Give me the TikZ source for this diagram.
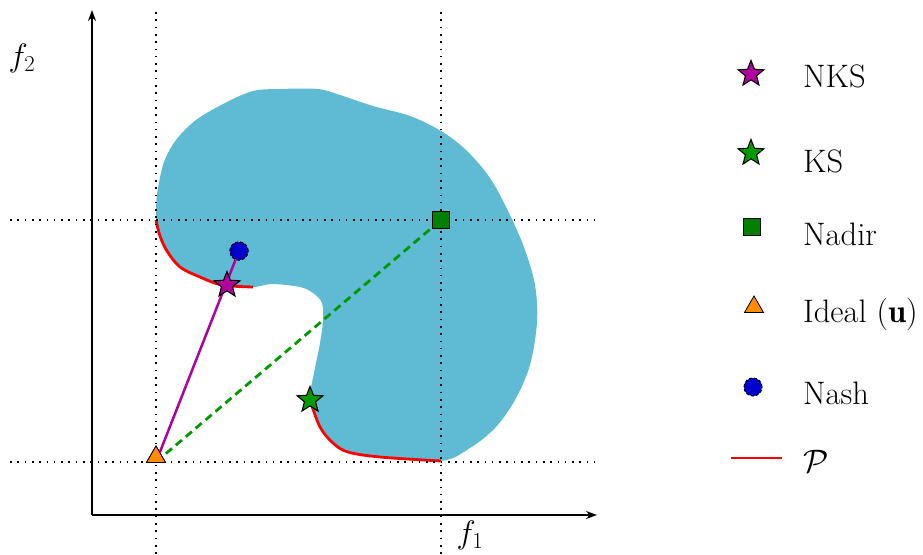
\documentclass[tikz,border=0pt]{standalone}
\usepackage{fix-cm}
\usepackage{fontspec}
\usetikzlibrary{shapes.geometric,arrows.meta}
\definecolor{blobc}{HTML}{5FBBD3}
\definecolor{nkscol}{HTML}{B0009E}
\definecolor{kscol}{HTML}{009A00}
\definecolor{nadircol}{HTML}{007F00}
\definecolor{idealcol}{HTML}{FF8C00}
\definecolor{nashcol}{HTML}{0000CC}
\definecolor{parcol}{HTML}{FF0000}
\tikzset{
  x=1pt,y=-1pt,
  dotline/.style={line width=1.6pt, dash pattern=on 1.6pt off 5.7pt},
  axisline/.style={line width=1.3pt,-{Stealth[length=11pt,width=8pt]}},
  starmark/.style={star, star points=5, star point ratio=2.3, minimum size=27pt, inner sep=0pt, draw=black, line width=1.1pt},
  nksmark/.style={starmark, fill=nkscol},
  ksmark/.style={starmark, fill=kscol},
  nadirmark/.style={rectangle, minimum size=17pt, inner sep=0pt, draw=black, line width=1.1pt, fill=nadircol},
  idealmark/.style={regular polygon, regular polygon sides=3, minimum size=22pt, inner sep=0pt, draw=black, line width=0.8pt, fill=idealcol},
  nashmark/.style={circle, minimum size=18pt, inner sep=0pt, draw=black, line width=1.1pt, densely dashed, fill=nashcol},
  paretoline/.style={parcol, line width=2.8pt},
  legtext/.style={anchor=west, inner sep=0pt},
}
\begin{document}
\begin{tikzpicture}[font=\fontsize{32.5}{38}\selectfont]
\useasboundingbox (0,0) rectangle (923,554);
% blob
\fill[blobc] plot[smooth, tension=0.55] coordinates {
 (156,220) (160,236) (167,251) (180,267) (200,277) (222,285) (253,287)
 (272,284) (300,287) (313,293) (322,303) (323,320) (320,343) (314,373) (310,400)
 (320,427) (333,443) (348,452) (380,457) (441,461)
 (470,448) (495,428) (515,400) (530,365) (537,322) (535,285) (525,250)
 (510,215) (490,178) (466,150) (441,131) (410,116) (373,106) (340,95)
 (318,89) (280,89) (253,91) (225,103) (196,120) (176,140) (164,162) (158,188) (156,205)} -- cycle;
% pareto curves
\draw[paretoline] plot[smooth, tension=0.55] coordinates {
 (156,220) (160,236) (167,251) (180,267) (200,277) (222,285) (253,287)};
\draw[paretoline] plot[smooth, tension=0.55] coordinates {
 (310,400) (320,427) (333,443) (348,452) (380,457) (441,461)};
% dotted guides
\coordinate (vAtop) at (156,12); \coordinate (vAbot) at (156,554);
\coordinate (vBtop) at (441,12); \coordinate (vBbot) at (441,554);
\coordinate (hAl) at (10,220); \coordinate (hAr) at (595,220);
\coordinate (hBl) at (10,462); \coordinate (hBr) at (595,462);
\draw[dotline] (vAtop) -- (vAbot);
\draw[dotline] (vBtop) -- (vBbot);
\draw[dotline] (hAl) -- (hAr);
\draw[dotline] (hBl) -- (hBr);
% axes
\coordinate (origin) at (92,515);
\coordinate (ytip) at (92,10);
\coordinate (xtip) at (597,515);
\draw[axisline] (origin) -- (ytip);
\draw[axisline] (origin) -- (xtip);
\node (f2) at (22,58) {$f_2$};
\node (f1) at (470,535) {$f_1$};
% points
\node[nashmark] (nash) at (239,251) {};
\node[nadirmark] (nadir) at (441,220) {};
\node[idealmark] (ideal) at (156,457) {};
\coordinate (idealc) at (156,462);
\draw[nkscol, line width=2.5pt] (idealc) -- (nash.center);
\draw[kscol, line width=2.8pt, dash pattern=on 8pt off 5pt] (idealc) -- (nadir.center);
\node[nashmark] at (nash) {};
\node[nadirmark] at (nadir) {};
\node[idealmark] at (ideal) {};
\node[nksmark] (nks) at (227,285) {};
\node[ksmark] (ks) at (310,400) {};
% legend
\node[nksmark] (lnks) at (751,74) {};
\node[legtext] (tnks) at (803,76) {NKS};
\node[ksmark] (lks) at (751,153) {};
\node[legtext] (tks) at (803,161) {KS};
\node[nadirmark] (lnadir) at (752,227) {};
\node[legtext] (tnadir) at (803,234) {Nadir};
\node[idealmark] (lideal) at (754,307) {};
\node[legtext] (tideal) at (803,314) {Ideal ($\mathbf{u}$)};
\node[nashmark] (lnash) at (753,387) {};
\node[legtext] (tnash) at (803,393) {Nash};
\coordinate (lpa) at (731,458);
\coordinate (lpb) at (782,458);
\draw[paretoline] (lpa) -- (lpb);
\node[legtext] (tpar) at (803,461) {$\mathcal{P}$};
\end{tikzpicture}
\end{document}
